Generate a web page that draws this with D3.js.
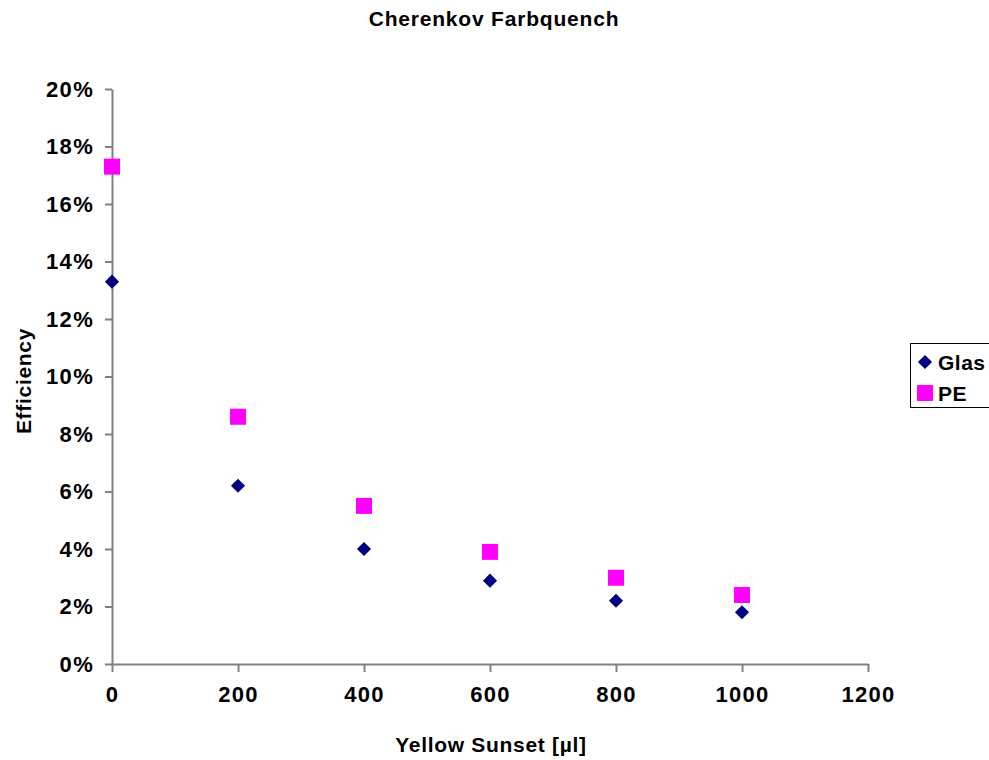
<!DOCTYPE html>
<html>
<head>
<meta charset="utf-8">
<script src="https://cdn.jsdelivr.net/npm/d3@7"></script>
<style>
  html, body { margin: 0; padding: 0; background: #fff; }
  svg { display: block; font-family: "Liberation Sans", Arial, sans-serif; font-weight: bold; }
</style>
</head>
<body>
<svg id="chart" width="989" height="760"></svg>
<script>
const xValues = [0, 200, 400, 600, 800, 1000];
const glasValues = [0.133, 0.062, 0.040, 0.029, 0.022, 0.018];
const peValues = [0.173, 0.086, 0.055, 0.039, 0.030, 0.024];
const xTicks = [0, 200, 400, 600, 800, 1000, 1200];
const yTicks = [0, 0.02, 0.04, 0.06, 0.08, 0.10, 0.12, 0.14, 0.16, 0.18, 0.20];

const svg = d3.select("#chart");
const margin = {left: 112, right: 121, top: 89, bottom: 96};
const W = 989, H = 760;

const x = d3.scaleLinear().domain([0, 1200]).range([margin.left, W - margin.right]);
const y = d3.scaleLinear().domain([0, 0.20]).range([H - margin.bottom, margin.top]);

const axisColor = "#808080";

// Y axis
const yAxis = svg.append("g")
  .attr("transform", `translate(${margin.left},0)`)
  .call(d3.axisLeft(y).tickValues(yTicks).tickFormat(d3.format(".0%")).tickSize(7).tickSizeOuter(0).tickPadding(11));
yAxis.select(".domain").attr("stroke", axisColor).attr("stroke-width", 2);
yAxis.selectAll(".tick line").attr("stroke", axisColor).attr("stroke-width", 2);
yAxis.selectAll(".tick text").attr("fill", "#000").style("font-size", "22px").style("font-weight", "bold")
  .style("letter-spacing", "1.3px")
  .style("font-family", "'Liberation Sans', Arial, sans-serif");

// X axis
const xAxis = svg.append("g")
  .attr("transform", `translate(0,${H - margin.bottom})`)
  .call(d3.axisBottom(x).tickValues(xTicks).tickFormat(d3.format("d")).tickSize(8).tickSizeOuter(0).tickPadding(14));
xAxis.select(".domain").attr("stroke", axisColor).attr("stroke-width", 2);
xAxis.selectAll(".tick line").attr("stroke", axisColor).attr("stroke-width", 2);
xAxis.selectAll(".tick text").attr("fill", "#000").style("font-size", "22px").style("font-weight", "bold")
  .style("letter-spacing", "1.3px")
  .style("font-family", "'Liberation Sans', Arial, sans-serif");

// Title
svg.append("text").attr("x", 494).attr("y", 26).attr("text-anchor", "middle")
  .style("font-size", "21px").style("letter-spacing", "0.8px").text("Cherenkov Farbquench");

// Axis titles
svg.append("text").attr("x", 491).attr("y", 752).attr("text-anchor", "middle")
  .style("font-size", "21px").style("letter-spacing", "0.7px").text("Yellow Sunset [µl]");
svg.append("text").attr("transform", "translate(31,381) rotate(-90)").attr("text-anchor", "middle")
  .style("font-size", "21px").style("letter-spacing", "0.7px").text("Efficiency");

// Marks
svg.append("g").selectAll("rect").data(xValues.map((d, i) => [d, peValues[i]]))
  .join("rect")
  .attr("x", d => x(d[0]) - 8).attr("y", d => y(d[1]) - 8)
  .attr("width", 16).attr("height", 16).attr("fill", "#FF00FF");

svg.append("g").selectAll("path").data(xValues.map((d, i) => [d, glasValues[i]]))
  .join("path")
  .attr("d", d3.symbol().type(d3.symbolSquare).size(100))
  .attr("transform", d => `translate(${x(d[0])},${y(d[1])}) rotate(45)`)
  .attr("fill", "#000080");

// Legend
const lg = svg.append("g");
lg.append("rect").attr("x", 910.5).attr("y", 343.5).attr("width", 100).attr("height", 64)
  .attr("fill", "#fff").attr("stroke", "#000").attr("stroke-width", 1);
lg.append("path").attr("d", d3.symbol().type(d3.symbolSquare).size(100))
  .attr("transform", "translate(925,362) rotate(45)").attr("fill", "#000080");
lg.append("rect").attr("x", 917).attr("y", 385).attr("width", 16).attr("height", 16).attr("fill", "#FF00FF");
lg.append("text").attr("x", 938).attr("y", 370).style("font-size", "21px").style("letter-spacing", "0.5px").text("Glas");
lg.append("text").attr("x", 938).attr("y", 401).style("font-size", "21px").style("letter-spacing", "0.5px").text("PE");
</script>
</body>
</html>
